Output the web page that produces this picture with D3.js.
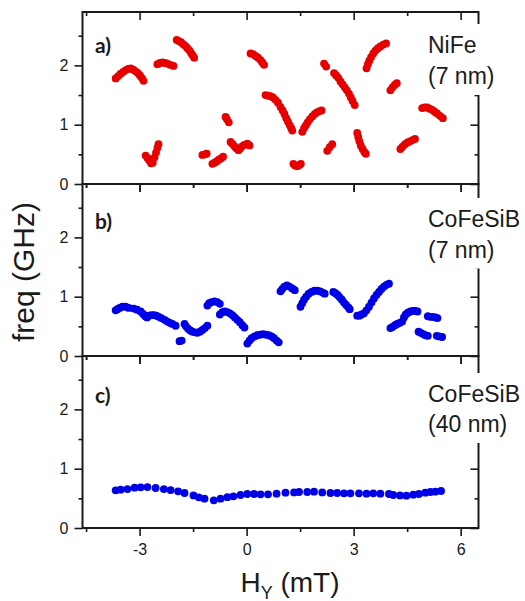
<!DOCTYPE html>
<html><head><meta charset="utf-8">
<script src="https://cdn.jsdelivr.net/npm/d3@7"></script>
<style>html,body{margin:0;padding:0;background:#fff;}svg{display:block;}</style>
</head><body>
<svg id="chart" width="525" height="601"></svg>
<script>
// ---------- data ----------
const xTicks = [-3, 0, 3, 6];
const xMinorTicks = [-4.5, -1.5, 1.5, 4.5];
const yTicks = [0, 1, 2];
const yMinorTicks = [0.5, 1.5, 2.5];
const panelLetters = ["a)", "b)", "c)"];
const materialLine1 = ["NiFe", "CoFeSiB", "CoFeSiB"];
const materialLine2 = ["(7 nm)", "(7 nm)", "(40 nm)"];
const seriesColors = ["#e60000", "#0000e6", "#0000e6"];
const xTitle = "H";
const xTitleSub = "Y";
const xTitleUnit = " (mT)";
const yTitle = "freq (GHz)";

// panel a) NiFe 7 nm : [H (mT), freq (GHz)]
const nife7 = [
 [-3.67,1.78],[-3.60,1.82],[-3.53,1.86],[-3.46,1.89],[-3.39,1.92],[-3.32,1.94],[-3.25,1.95],[-3.18,1.93],[-3.11,1.90],[-3.05,1.87],[-2.99,1.83],[-2.94,1.79],[-2.89,1.74],
 [-2.50,2.02],[-2.43,2.04],[-2.36,2.05],[-2.29,2.04],[-2.22,2.03],[-2.14,2.01],[-2.05,1.99],
 [-1.96,2.43],[-1.90,2.41],[-1.84,2.39],[-1.78,2.36],[-1.72,2.33],[-1.66,2.29],[-1.60,2.25],[-1.55,2.20],[-1.51,2.17],[-1.47,2.13],
 [-2.83,0.48],[-2.78,0.44],[-2.73,0.40],[-2.68,0.35],[-2.63,0.36],[-2.58,0.45],[-2.54,0.53],[-2.50,0.61],[-2.47,0.67],
 [-1.24,0.49],[-1.17,0.50],[-1.12,0.51],
 [-0.96,0.34],[-0.90,0.36],[-0.84,0.38],[-0.78,0.41],[-0.72,0.43],[-0.66,0.46],
 [-0.59,1.13],[-0.55,1.09],[-0.50,1.04],
 [-0.45,0.71],[-0.39,0.67],[-0.33,0.63],[-0.28,0.60],[-0.23,0.57],[-0.18,0.60],[-0.12,0.64],[-0.06,0.66],[0.02,0.68],[0.08,0.65],
 [0.11,2.20],[0.18,2.19],[0.25,2.16],[0.32,2.13],[0.39,2.09],[0.44,2.05],[0.49,2.01],
 [0.53,1.50],[0.60,1.49],[0.67,1.48],[0.74,1.46],[0.81,1.42],[0.88,1.37],[0.95,1.30],[1.01,1.24],[1.06,1.18],[1.11,1.11],[1.16,1.05],[1.21,0.99],[1.25,0.94],[1.28,0.90],
 [1.31,0.34],[1.36,0.31],[1.42,0.30],[1.48,0.32],[1.52,0.34],
 [1.56,0.88],[1.61,0.94],[1.66,0.99],[1.71,1.04],[1.77,1.09],[1.84,1.14],[1.91,1.18],[1.98,1.21],[2.05,1.23],[2.10,1.24],
 [2.17,2.03],[2.23,1.98],
 [2.45,1.87],[2.51,1.83],[2.57,1.79],[2.63,1.73],[2.69,1.68],[2.75,1.63],[2.81,1.58],[2.87,1.52],[2.92,1.46],[2.97,1.40],[3.03,1.33],
 [2.26,0.56],[2.33,0.62],[2.40,0.67],
 [3.10,0.86],[3.13,0.79],[3.16,0.72],[3.20,0.65],[3.25,0.59],[3.30,0.54],[3.34,0.51],
 [3.36,1.95],[3.40,2.02],[3.44,2.08],[3.49,2.14],[3.55,2.20],[3.61,2.25],[3.68,2.29],[3.75,2.32],[3.83,2.35],[3.91,2.37],
 [4.03,1.58],[4.09,1.63],[4.15,1.67],[4.21,1.70],
 [4.31,0.59],[4.37,0.63],[4.44,0.67],[4.51,0.70],[4.58,0.72],[4.65,0.74],[4.72,0.76],
 [4.92,1.28],[4.99,1.29],[5.06,1.29],[5.13,1.27],[5.20,1.25],[5.27,1.22],[5.34,1.19],[5.42,1.15],[5.50,1.11]
];

// panel b) CoFeSiB 7 nm
const cofesib7 = [
 [-3.67,0.77],[-3.62,0.79],[-3.56,0.81],[-3.48,0.83],[-3.39,0.83],[-3.30,0.81],[-3.16,0.80],[-3.07,0.78],[-2.97,0.75],[-2.90,0.71],[-2.84,0.67],[-2.79,0.65],[-2.74,0.68],[-2.67,0.69],[-2.60,0.69],[-2.53,0.68],[-2.46,0.66],[-2.39,0.64],[-2.30,0.61],[-2.22,0.58],[-2.15,0.56],[-2.08,0.54],[-1.99,0.51],
 [-1.88,0.25],[-1.82,0.26],
 [-1.74,0.54],[-1.70,0.50],[-1.64,0.46],[-1.58,0.43],[-1.52,0.41],[-1.45,0.40],[-1.38,0.39],[-1.31,0.41],[-1.24,0.44],[-1.17,0.47],[-1.10,0.51],
 [-1.10,0.85],[-1.05,0.89],[-0.98,0.91],[-0.90,0.92],[-0.82,0.91],[-0.75,0.88],
 [-0.75,0.70],[-0.68,0.74],[-0.61,0.75],[-0.54,0.74],[-0.47,0.72],[-0.40,0.69],[-0.33,0.65],[-0.26,0.61],[-0.19,0.57],[-0.12,0.52],[-0.06,0.48],
 [0.02,0.21],[0.08,0.26],[0.14,0.30],[0.22,0.33],[0.30,0.35],[0.38,0.36],[0.46,0.37],[0.54,0.36],[0.62,0.35],[0.70,0.33],[0.77,0.30],[0.84,0.26],[0.90,0.23],
 [0.95,1.09],[1.00,1.13],[1.06,1.17],[1.13,1.19],[1.20,1.17],[1.28,1.14],[1.35,1.11],
 [1.51,0.83],[1.56,0.89],[1.61,0.95],[1.67,1.00],[1.74,1.05],[1.82,1.08],[1.90,1.10],[1.98,1.10],[2.06,1.09],[2.13,1.07],[2.19,1.05],
 [2.43,1.08],[2.49,1.06],[2.55,1.03],[2.61,0.99],[2.67,0.95],[2.73,0.90],[2.79,0.86],[2.85,0.82],[2.89,0.79],
 [3.10,0.68],[3.16,0.68],[3.22,0.70],[3.29,0.72],[3.36,0.77],[3.43,0.83],[3.50,0.90],[3.57,0.97],[3.64,1.03],[3.71,1.08],[3.78,1.13],[3.85,1.17],[3.92,1.20],[3.99,1.22],
 [4.03,0.47],[4.09,0.49],[4.16,0.52],[4.22,0.54],[4.29,0.56],[4.36,0.58],
 [4.41,0.65],[4.46,0.70],[4.52,0.73],[4.59,0.75],[4.66,0.76],[4.73,0.76],[4.79,0.75],
 [5.08,0.67],[5.15,0.66],[5.22,0.66],[5.29,0.65],[5.35,0.64],
 [4.82,0.41],[4.88,0.39],[4.95,0.37],[5.01,0.35],[5.08,0.34],
 [5.33,0.34],[5.40,0.33],[5.48,0.32]
];

// panel c) CoFeSiB 40 nm
const cofesib40 = [
 [-3.67,0.635],[-3.53,0.646],[-3.34,0.657],[-3.14,0.68],[-2.97,0.685],[-2.78,0.69],[-2.55,0.674],[-2.32,0.657],[-2.13,0.64],[-1.92,0.618],[-1.74,0.59],[-1.49,0.55],[-1.34,0.517],[-1.18,0.494],[-0.92,0.466],[-0.73,0.494],[-0.54,0.52],[-0.37,0.534],[-0.17,0.556],[0.02,0.573],[0.21,0.573],[0.39,0.567],[0.60,0.567],[0.84,0.579],[1.09,0.596],[1.33,0.60],[1.47,0.607],[1.70,0.607],[1.89,0.612],[2.12,0.60],[2.35,0.59],[2.54,0.59],[2.73,0.584],[2.91,0.584],[3.15,0.584],[3.36,0.579],[3.55,0.584],[3.75,0.579],[3.99,0.573],[4.11,0.556],[4.30,0.55],[4.48,0.545],[4.67,0.562],[4.83,0.573],[5.01,0.596],[5.15,0.607],[5.29,0.612],[5.45,0.624]
];
const panelData = [nife7, cofesib7, cofesib40];

// ---------- layout ----------
const left = 82.5, right = 478.5;
const panelTops = [12, 184, 356];
const panelH = 172;
const font = "'Liberation Sans', Arial, sans-serif";
const ink = "#1a1a1a";

const svg = d3.select("#chart");
svg.append("rect").attr("width",525).attr("height",601).attr("fill","#fff");

const x = d3.scaleLinear().domain([-4.6, 6.5]).range([left, right]);

const letterBaselines = [52.7, 229, 403];
const matBaselines = [[53, 84], [227, 257.5], [402, 432]];

panelData.forEach((data, i) => {
  const top = panelTops[i], bottom = top + panelH;
  const y = d3.scaleLinear().domain([0, 2.9]).range([bottom, top]);
  const g = svg.append("g");

  // points
  g.append("g").selectAll("circle").data(data).join("circle")
    .attr("cx", d => x(d[0])).attr("cy", d => y(d[1]))
    .attr("r", 3.9).attr("fill", seriesColors[i]);

  const styleAxis = sel => {
    sel.select(".domain").remove();
    sel.selectAll("line").attr("stroke", ink).attr("stroke-width", 1.6);
    sel.selectAll("text").attr("font-family", font).attr("font-size", 16).attr("fill", ink);
  };

  // left (outward)
  g.append("g").attr("transform", `translate(${left},0)`)
    .call(d3.axisLeft(y).tickValues(yTicks).tickSize(8).tickPadding(6).tickFormat(d3.format("d"))).call(styleAxis);
  g.append("g").attr("transform", `translate(${left},0)`)
    .call(d3.axisLeft(y).tickValues(yMinorTicks).tickSize(4).tickFormat("")).call(styleAxis);
  // right (inward)
  g.append("g").attr("transform", `translate(${right},0)`)
    .call(d3.axisRight(y).tickValues(yTicks).tickSize(-8).tickFormat("")).call(styleAxis);
  g.append("g").attr("transform", `translate(${right},0)`)
    .call(d3.axisRight(y).tickValues(yMinorTicks).tickSize(-4).tickFormat("")).call(styleAxis);
  // bottom (outward)
  g.append("g").attr("transform", `translate(0,${bottom})`)
    .call(d3.axisBottom(x).tickValues(xTicks).tickSize(8).tickPadding(8)
      .tickFormat(i === 2 ? (d => d < 0 ? "-" + Math.abs(d) : String(d)) : "")).call(styleAxis);
  g.append("g").attr("transform", `translate(0,${bottom})`)
    .call(d3.axisBottom(x).tickValues(xMinorTicks).tickSize(4).tickFormat("")).call(styleAxis);
  // top (inward)
  g.append("g").attr("transform", `translate(0,${top})`)
    .call(d3.axisTop(x).tickValues(xTicks).tickSize(-8).tickFormat("")).call(styleAxis);
  g.append("g").attr("transform", `translate(0,${top})`)
    .call(d3.axisTop(x).tickValues(xMinorTicks).tickSize(-4).tickFormat("")).call(styleAxis);

  // frame
  g.append("rect").attr("x", left).attr("y", top).attr("width", right - left).attr("height", panelH)
    .attr("fill", "none").attr("stroke", ink).attr("stroke-width", 2);

  // material label box + text
  const [b1, b2] = matBaselines[i];
  g.append("rect").attr("x", 421).attr("y", b1 - 29).attr("width", 104).attr("height", b2 - b1 + 40).attr("fill", "#fff");
  const t = g.append("text").attr("font-family", font).attr("font-size", 23).attr("fill", ink);
  t.append("tspan").attr("x", 428).attr("y", b1).text(materialLine1[i]);
  t.append("tspan").attr("x", 428).attr("y", b2).text(materialLine2[i]);

  // panel letter
  g.append("text").attr("x", 95).attr("y", letterBaselines[i])
    .attr("font-family", "Lato, 'Open Sans', sans-serif").attr("font-weight", "bold")
    .attr("font-size", 21).attr("fill", ink).text(panelLetters[i]);
});

// axis titles
const xt = svg.append("text").attr("x", 290).attr("y", 591.5).attr("text-anchor", "middle")
  .attr("font-family", font).attr("font-size", 28).attr("fill", ink);
xt.append("tspan").text(xTitle);
xt.append("tspan").attr("font-size", 18).attr("dy", 7).text(xTitleSub);
xt.append("tspan").attr("dy", -7).text(xTitleUnit);

svg.append("text").attr("transform", "translate(34,272) rotate(-90)").attr("text-anchor", "middle")
  .attr("font-family", font).attr("font-size", 30).attr("fill", ink).text(yTitle);
</script>
</body></html>
